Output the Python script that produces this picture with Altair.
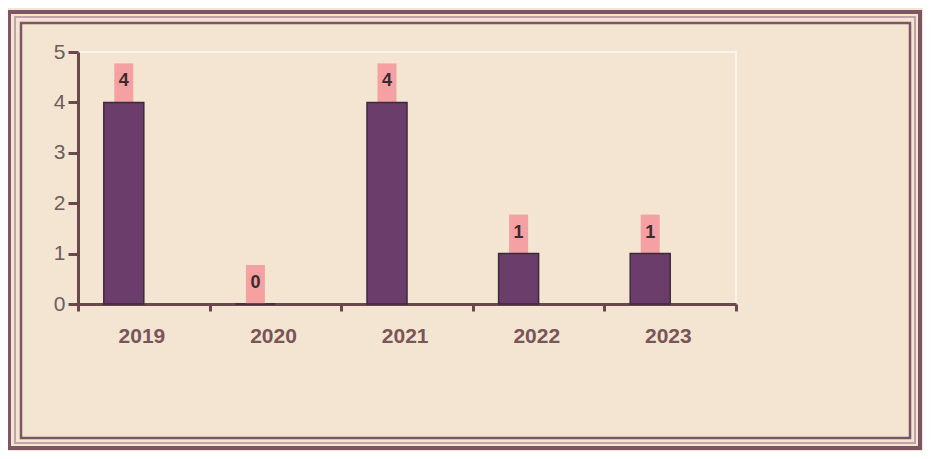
import altair as alt
import pandas as pd

years = ["2019", "2020", "2021", "2022", "2023"]
counts = [4, 0, 4, 1, 1]

df = pd.DataFrame({"year": years, "count": counts})

W, H = 658, 252
PL, PT = 70, 44
CW, CH = 915, 443

x_enc = alt.X("year:N", sort=years,
              scale=alt.Scale(paddingInner=0, paddingOuter=0),
              axis=alt.Axis(title=None, labelAngle=0, labelFont="Liberation Sans",
                            labelFontSize=21, labelFontWeight="bold", labelColor="#7a5558",
                            labelPadding=25, labelOffset=21,
                            tickBand="extent", tickSize=7, tickWidth=3, tickColor="#6a484c",
                            domainColor="#6a484c", domainWidth=3))
y_scale = alt.Scale(domain=[0, 5])
y_enc = alt.Y("count:Q", scale=y_scale,
              axis=alt.Axis(title=None, values=[0, 1, 2, 3, 4, 5], grid=False,
                            labelFont="Liberation Sans", labelFontSize=21,
                            labelColor="#6e5c5c", labelPadding=3,
                            tickSize=10, tickWidth=3, tickColor="#6a484c",
                            domainColor="#6a484c", domainWidth=3))

base = alt.Chart(df)

bars = base.mark_bar(width=40, xOffset=-20, color="#6b3d6b",
                     stroke="#3c2a3a", strokeWidth=1.5).encode(x=x_enc, y=y_enc)

label_bg = base.mark_bar(width=19, xOffset=-20, y2Offset=-39, color="#f5a0a2").encode(
    x=alt.X("year:N", sort=years), y=alt.Y("count:Q", scale=y_scale), y2="count:Q")

labels = base.mark_text(xOffset=-20, yOffset=-21, font="Liberation Sans", fontSize=18,
                        fontWeight="bold", color="#3a2c2e").encode(
    x=alt.X("year:N", sort=years), y=alt.Y("count:Q", scale=y_scale), text="count:Q")

def frame(x1, y1, x2, y2, color, sw):
    return alt.Chart(pd.DataFrame({"k": [0]})).mark_rect(
        fill=None, stroke=color, strokeWidth=sw).encode(
        x=alt.value(x1 - 78), x2=alt.value(x2 - 78),
        y=alt.value(y1 - 52), y2=alt.value(y2 - 52))

frames = (frame(9, 12, 920, 448, "#7e5562", 4)
          + frame(15, 17, 915, 443, "#c4a0a8", 2)
          + frame(21, 23, 910, 438, "#7e5562", 2.5))

chart = alt.layer(frames, label_bg, bars, labels).properties(
    width=W, height=H,
    autosize=alt.AutoSizeParams(type="none"),
    padding={"left": PL, "top": PT, "right": CW - PL - W, "bottom": CH - PT - H},
    background="#f3e5d2",
).configure_view(stroke="#fbf4ea", strokeWidth=2)

chart.save("out.html", embed_options={"renderer": "svg", "actions": False})
